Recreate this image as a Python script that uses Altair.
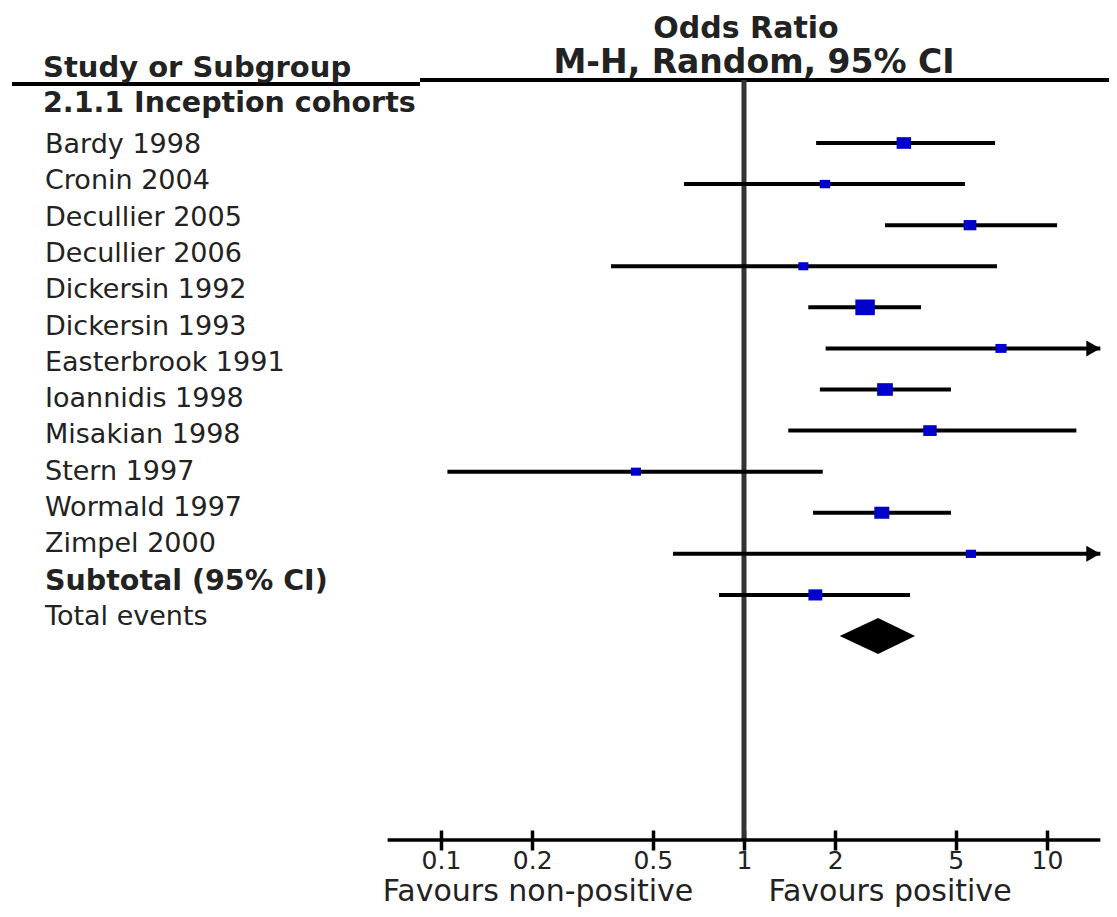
import altair as alt
import pandas as pd

# ---- data ----
studies = ["Bardy 1998", "Cronin 2004", "Decullier 2005", "Decullier 2006",
           "Dickersin 1992", "Dickersin 1993", "Easterbrook 1991", "Ioannidis 1998",
           "Misakian 1998", "Stern 1997", "Wormald 1997", "Zimpel 2000"]
odds_ratio = [3.37, 1.85, 5.57, 1.57, 2.51, 7.05, 2.92, 4.11, 0.44, 2.85, 5.61, 1.72]
ci_low = [1.73, 0.634, 2.92, 0.364, 1.63, 1.86, 1.78, 1.40, 0.105, 1.69, 0.583, 0.827]
ci_high = [6.74, 5.36, 10.8, 6.84, 3.84, 26.7, 4.82, 12.5, 1.82, 4.82, 54.0, 3.53]
weight_pct = [9.8, 5.1, 7.6, 4.7, 17.8, 5.8, 11.6, 8.4, 4.7, 10.5, 4.9, 9.0]

subtotal_or = 2.77
subtotal_low = 2.07
subtotal_high = 3.67

row_labels = studies + ["Subtotal (95% CI)", "Total events"]
bold_rows = ["Subtotal (95% CI)"]
group_title = ["2.1.1 Inception cohorts"]
column_title = ["Study or Subgroup"]
plot_title = ["Odds Ratio"]
plot_subtitle = ["M-H, Random, 95% CI"]
favours_left = ["Favours non-positive"]
favours_right = ["Favours positive"]
tick_values = [0.1, 0.2, 0.5, 1, 2, 5, 10]
axis_limits = [1 / 15, 15]
null_value = [1]

# ---- tables ----
n = len(studies)
study_df = pd.DataFrame({
    "study": studies, "k": list(range(n)), "or": odds_ratio,
    "lo": ci_low, "hi": ci_high, "w": weight_pct,
})
study_df["hi_clip"] = study_df["hi"].clip(upper=axis_limits[1])
arrow_df = study_df[study_df["hi"] > axis_limits[1]]

diamond_df = pd.DataFrame({
    "x": [subtotal_low, subtotal_or, subtotal_high],
    "f": [0, 1, 0],
})
diamond_df["k"] = n
label_df = pd.DataFrame({"label": row_labels, "row": list(range(1, len(row_labels) + 1))})
label_df["bold"] = label_df["label"].isin(bold_rows)
axis_df = pd.DataFrame({"lo": [axis_limits[0]], "hi": [axis_limits[1]]})
null_df = pd.DataFrame({"x": null_value})
one = pd.DataFrame({"d": [0]})

FONT = "DejaVu Sans"
TXT = "#222222"

xscale = alt.Scale(type="log", domain=[0.003724, 16.02], nice=False, zero=False)
xaxis = alt.Axis(values=tick_values, domain=False, grid=False, tickSize=20, offset=-10,
                 tickWidth=3.5, tickColor="black", labelFont=FONT, labelFontSize=25,
                 labelColor=TXT, labelPadding=10, labelBaseline="middle",
                 labelExpr="format(datum.value, '~g')", labelOverlap=False,
                 labelFlush=False, title=None)


def X(field):
    return alt.X(field, type="quantitative", scale=xscale, axis=xaxis)


yplot = alt.Scale(domain=[0, n], range=[135, 628], nice=False, zero=False)
ylab = alt.Scale(domain=[1, len(row_labels)], range=[137, 609], nice=False, zero=False)

vline = alt.Chart(null_df).mark_rule(color="#333333", strokeWidth=5).encode(
    x=X("x"), y=alt.value(72), y2=alt.value(832))

axis_line = alt.Chart(axis_df).mark_rule(color="black", strokeWidth=3.5).encode(
    x=X("lo"), x2="hi", y=alt.value(832))

ci = alt.Chart(study_df).mark_rule(color="black", strokeWidth=4).encode(
    x=X("lo"), x2="hi_clip",
    y=alt.Y("k:Q", scale=yplot, axis=None))

arrows = alt.Chart(arrow_df).mark_point(
    shape="M-1.75,-1L0,0L-1.75,1Z", filled=True, color="black", opacity=1, size=256
).encode(x=X("hi_clip"), y=alt.Y("k:Q", scale=yplot, axis=None))

squares = alt.Chart(study_df).mark_point(
    shape="M-1.12,-0.9H1.12V0.9H-1.12Z", filled=True, color="#0000cc", opacity=1
).encode(
    x=X("or"), y=alt.Y("k:Q", scale=yplot, axis=None),
    size=alt.Size("w:Q", scale=alt.Scale(domain=[0, 18], range=[0, 307]), legend=None))

diamond = alt.Chart(diamond_df).transform_calculate(
    yt="datum.k - 0.44 * datum.f", yb="datum.k + 0.44 * datum.f"
).mark_area(color="black", orient="vertical", opacity=1).encode(
    x=X("x"), y=alt.Y("yt:Q", scale=yplot, axis=None), y2="yb:Q")

labels_reg = alt.Chart(label_df).transform_filter("!datum.bold").mark_text(
    align="left", baseline="middle", font=FONT, fontSize=27, color=TXT
).encode(x=alt.value(37), y=alt.Y("row:Q", scale=ylab, axis=None), text="label:N")

labels_bold = alt.Chart(label_df).transform_filter("datum.bold").mark_text(
    align="left", baseline="middle", font=FONT, fontSize=28.5, fontWeight="bold", color=TXT
).encode(x=alt.value(37), y=alt.Y("row:Q", scale=ylab, axis=None), text="label:N")


def text_layer(values, x, y, size, bold=False, align="left", baseline="middle"):
    df = pd.DataFrame({"t": values})
    kw = dict(align=align, baseline=baseline, font=FONT, fontSize=size, color=TXT)
    if bold:
        kw["fontWeight"] = "bold"
    return alt.Chart(df).mark_text(**kw).encode(x=alt.value(x), y=alt.value(y), text="t:N")


col_head = text_layer(column_title, 35, 60, 29, bold=True)
grp_head = text_layer(group_title, 35, 95, 28.5, bold=True)
title1 = text_layer(plot_title, 738, 21, 30, bold=True, align="center")
title2 = text_layer(plot_subtitle, 746, 55, 33, bold=True, align="center")
fav_l = text_layer(favours_left, 530, 893, 30, align="center", baseline="alphabetic")
fav_r = text_layer(favours_right, 882, 893, 30, align="center", baseline="alphabetic")

rule_left = alt.Chart(one).mark_rule(color="black", strokeWidth=4).encode(
    x=alt.value(4), x2=alt.value(412), y=alt.value(76))
rule_right = alt.Chart(one).mark_rule(color="black", strokeWidth=4).encode(
    x=alt.value(412), x2=alt.value(1101), y=alt.value(72))

chart = alt.layer(
    rule_left, rule_right, vline, axis_line, ci, arrows, squares, diamond,
    labels_reg, labels_bold, col_head, grp_head, title1, title2, fav_l, fav_r
).resolve_scale(y="independent").properties(
    width=1101, height=832,
    autosize=alt.AutoSizeParams(type="none"),
    padding={"left": 0, "right": 0, "top": 0, "bottom": 69},
).configure_view(stroke=None)

chart.save("out.html", embed_options={"renderer": "svg", "actions": False})
